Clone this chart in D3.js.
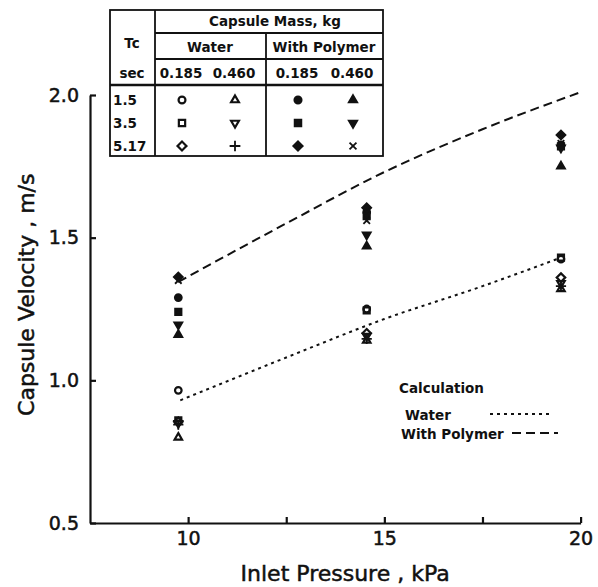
<!DOCTYPE html>
<html>
<head>
  <meta charset="utf-8">
  <title>Capsule Velocity</title>
  <script src="https://d3js.org/d3.v7.min.js"></script>
  <style>
    body { margin: 0; background: #fff; }
    svg { font-family: "DejaVu Sans", sans-serif; }
    .axis .domain, .axis .tick line { stroke: #111; stroke-width: 2.2; }
    .axis .tick text { font-size: 19px; fill: #111; stroke: #111; stroke-width: 0.5; }
    .title { font-size: 22px; fill: #111; stroke: #111; stroke-width: 0.5; }
    .tbl text { font-size: 13.5px; font-weight: bold; fill: #111; }
    .tbl line, .tbl rect { stroke: #111; stroke-width: 1.8; fill: none; }
    .calc { fill: none; stroke: #111; stroke-width: 2; }
  </style>
</head>
<body>
<div id="chart"></div>
<script>
  // measured inlet pressures (kPa)
  const pressure = [9.75, 14.55, 19.5]

  // capsule velocity (m/s), water, 0.185 kg / 0.460 kg
  const waterA15 = [0.965, 1.25, 1.425]
  const waterA35 = [0.86, 1.245, 1.43]
  const waterA517 = [0.855, 1.165, 1.36]
  const waterB15 = [0.80, 1.14, 1.32]
  const waterB35 = [0.85, 1.155, 1.34]
  const waterB517 = [0.845, 1.145, 1.33]

  // with polymer
  const polyA15 = [1.29, 1.59, 1.825]
  const polyA35 = [1.24, 1.575, 1.82]
  const polyA517 = [1.362, 1.605, 1.86]
  const polyB15 = [1.16, 1.47, 1.75]
  const polyB35 = [1.195, 1.51, 1.815]
  const polyB517 = [1.35, 1.56, 1.83]

  // calculation curves
  const calcWaterP = [9.8, 12.5, 15, 17.5, 19.4]
  const calcWaterV = [0.93, 1.08, 1.215, 1.33, 1.425]
  const calcPolyP = [9.75, 12.5, 15, 17.5, 20]
  const calcPolyV = [1.345, 1.55, 1.73, 1.88, 2.01]

  const xTicks = [10, 12.5, 15, 17.5, 20]
  const xTickLabels = ['10', '', '15', '', '20']
  const yTicks = [0.5, 1.0, 1.5, 2.0]

  const width = 598, height = 587
  const margin = { left: 90, top: 95, right: 17.4, bottom: 64 }
  const w = width - margin.left - margin.right
  const h = height - margin.top - margin.bottom

  const svg = d3.select('#chart').append('svg')
    .attr('width', width)
    .attr('height', height)

  const chart = svg.append('g')
    .attr('transform', `translate(${margin.left},${margin.top})`)

  const x = d3.scaleLinear().domain([7.5, 20]).range([0, w])
  const y = d3.scaleLinear().domain([0.5, 2.0]).range([h, 0])

  // axes, ticks pointing inwards
  chart.append('g')
    .attr('class', 'axis')
    .call(d3.axisLeft(y).tickValues(yTicks).tickFormat(d3.format('.1f'))
      .tickSizeInner(-6).tickSizeOuter(0).tickPadding(11))

  chart.append('g')
    .attr('class', 'axis')
    .attr('transform', `translate(0,${h})`)
    .call(d3.axisBottom(x).tickValues(xTicks).tickFormat((d, i) => xTickLabels[i])
      .tickSizeInner(-6).tickSizeOuter(0).tickPadding(9))

  chart.selectAll('.axis .tick text').attr('font-family', '"DejaVu Sans", sans-serif')

  // axis titles
  svg.append('text')
    .attr('class', 'title')
    .attr('x', margin.left + x(14.0))
    .attr('y', 581)
    .attr('text-anchor', 'middle')
    .text('Inlet Pressure , kPa')

  svg.append('text')
    .attr('class', 'title')
    .attr('transform', `translate(34,${margin.top + y(1.3)}) rotate(-90)`)
    .attr('text-anchor', 'middle')
    .text('Capsule Velocity , m/s')

  // calculation curves
  const line = d3.line()
    .x((d) => x(d[0]))
    .y((d) => y(d[1]))
    .curve(d3.curveMonotoneX)

  chart.append('path')
    .datum(calcWaterP.map((p, i) => [p, calcWaterV[i]]))
    .attr('class', 'calc')
    .attr('stroke-dasharray', '3,4')
    .attr('d', line)

  chart.append('path')
    .datum(calcPolyP.map((p, i) => [p, calcPolyV[i]]))
    .attr('class', 'calc')
    .attr('stroke-dasharray', '9,5')
    .attr('d', line)

  // markers
  const sym = {
    circle: { type: d3.symbolCircle, size: 34, rot: 0 },
    square: { type: d3.symbolSquare, size: 36, rot: 0 },
    diamond: { type: d3.symbolSquare, size: 36, rot: 45 },
    up: { type: d3.symbolTriangle, size: 24, rot: 0 },
    down: { type: d3.symbolTriangle, size: 24, rot: 180 },
    plus: { type: d3.symbolPlus, size: 36, rot: 0 },
    times: { type: d3.symbolTimes, size: 30, rot: 0 }
  }

  const series = [
    { v: waterA15, s: 'circle', fill: false },
    { v: waterA35, s: 'square', fill: false },
    { v: waterA517, s: 'diamond', fill: false },
    { v: waterB15, s: 'up', fill: false },
    { v: waterB35, s: 'down', fill: false },
    { v: waterB517, s: 'plus', fill: false },
    { v: polyA15, s: 'circle', fill: true },
    { v: polyA35, s: 'square', fill: true },
    { v: polyA517, s: 'diamond', fill: true },
    { v: polyB15, s: 'up', fill: true },
    { v: polyB35, s: 'down', fill: true },
    { v: polyB517, s: 'times', fill: true }
  ]

  function drawMarker(g, key, filled, cx, cy, scale) {
    const m = sym[key]
    const isLine = key === 'plus' || key === 'times'
    g.append('path')
      .attr('d', d3.symbol().type(m.type).size(m.size * (scale || 1))())
      .attr('transform', `translate(${cx},${cy}) rotate(${m.rot})`)
      .attr('fill', filled && !isLine ? '#111' : 'none')
      .attr('stroke', '#111')
      .attr('stroke-width', isLine ? 1.8 : 2.2)
  }

  series.forEach((sr) => {
    sr.v.forEach((v, i) => {
      drawMarker(chart, sr.s, sr.fill, x(pressure[i]), y(v))
    })
  })

  // legend table
  const tbl = svg.append('g').attr('class', 'tbl')
  tbl.append('rect').attr('x', 110).attr('y', 10).attr('width', 273).attr('height', 146)
  tbl.append('line').attr('x1', 155).attr('x2', 155).attr('y1', 10).attr('y2', 156)
  tbl.append('line').attr('x1', 155).attr('x2', 383).attr('y1', 33).attr('y2', 33)
  tbl.append('line').attr('x1', 155).attr('x2', 383).attr('y1', 59).attr('y2', 59)
  tbl.append('line').attr('x1', 266).attr('x2', 266).attr('y1', 33).attr('y2', 156)
  tbl.append('line').attr('x1', 110).attr('x2', 383).attr('y1', 85).attr('y2', 85)
    .style('stroke-width', 2.6)

  const tText = (tx, ty, s, anchor) => tbl.append('text')
    .attr('x', tx).attr('y', ty).attr('text-anchor', anchor || 'middle').text(s)

  tText(275, 26, 'Capsule Mass, kg')
  tText(132, 48, 'Tc')
  tText(132, 78, 'sec')
  tText(210, 52, 'Water')
  tText(324, 52, 'With Polymer')
  tText(181, 78, '0.185')
  tText(234, 78, '0.460')
  tText(297, 78, '0.185')
  tText(352, 78, '0.460')

  const rowLabels = ['1.5', '3.5', '5.17']
  const rowY = [100, 123, 146]
  const colX = [182, 235, 298, 353]
  rowLabels.forEach((r, i) => tText(113, rowY[i] + 5, r, 'start'))

  const tableSyms = [
    ['circle', 'up', 'circle', 'up'],
    ['square', 'down', 'square', 'down'],
    ['diamond', 'plus', 'diamond', 'times']
  ]
  tableSyms.forEach((row, i) => {
    row.forEach((s, j) => drawMarker(tbl, s, j >= 2, colX[j], rowY[i], 1.1))
  })

  // calculation legend
  const leg = svg.append('g').attr('class', 'tbl')
  leg.append('text').attr('x', 399).attr('y', 393).text('Calculation')
  leg.append('text').attr('x', 405).attr('y', 420).text('Water')
  leg.append('text').attr('x', 401).attr('y', 439).text('With Polymer')
  leg.append('line').attr('class', 'calc').attr('x1', 490).attr('x2', 550)
    .attr('y1', 414).attr('y2', 414).attr('stroke-dasharray', '3,4')
  leg.append('line').attr('class', 'calc').attr('x1', 512).attr('x2', 558)
    .attr('y1', 433).attr('y2', 433).attr('stroke-dasharray', '9,5')
</script>
</body>
</html>
